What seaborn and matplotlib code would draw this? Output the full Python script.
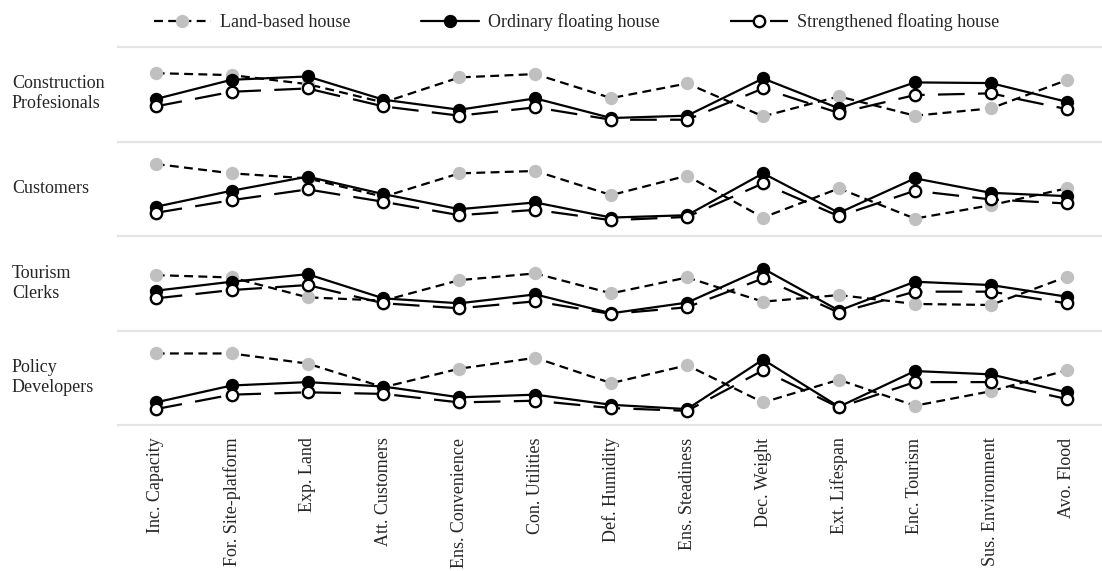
import matplotlib
matplotlib.use("Agg")
import matplotlib.pyplot as plt
import seaborn as sns
import pandas as pd
import numpy as np

criteria = ["Inc. Capacity", "For. Site-platform", "Exp. Land", "Att. Customers",
            "Ens. Convenience", "Con. Utilities", "Def. Humidity", "Ens. Steadiness",
            "Dec. Weight", "Ext. Lifespan", "Enc. Tourism", "Sus. Environment", "Avo. Flood"]
groups = ["Construction\nProfesionals", "Customers", "Tourism\nClerks", "Policy\nDevelopers"]
series = ["Land-based house", "Ordinary floating house", "Strengthened floating house"]

land_construction = [7.18, 6.97, 6.02, 4.08, 6.73, 7.08, 4.54, 6.09, 2.61, 4.72, 2.68, 3.45, 6.44]
ord_construction = [4.44, 6.48, 6.83, 4.37, 3.31, 4.51, 2.43, 2.68, 6.62, 3.45, 6.20, 6.13, 4.15]
str_construction = [3.66, 5.21, 5.56, 3.66, 2.68, 3.56, 2.25, 2.25, 5.56, 2.96, 4.86, 5.04, 3.38]

land_customers = [7.62, 6.63, 6.10, 4.15, 6.63, 6.88, 4.33, 6.38, 1.95, 5.04, 1.84, 3.26, 5.04]
ord_customers = [3.09, 4.79, 6.28, 4.43, 2.84, 3.55, 1.95, 2.20, 6.63, 2.45, 6.10, 4.57, 4.22]
str_customers = [2.45, 3.79, 4.93, 3.62, 2.20, 2.77, 1.67, 2.02, 5.57, 2.09, 4.79, 3.87, 3.44]

land_tourism = [5.86, 5.61, 3.51, 3.16, 5.33, 6.04, 3.93, 5.61, 3.05, 3.75, 2.81, 2.70, 5.68]
ord_tourism = [4.21, 5.16, 5.96, 3.40, 2.88, 3.82, 1.82, 2.95, 6.56, 2.11, 5.16, 4.81, 3.58]
str_tourism = [3.40, 4.28, 4.81, 2.88, 2.35, 3.09, 1.75, 2.46, 5.51, 1.89, 4.11, 4.11, 2.88]

land_policy = [7.57, 7.57, 6.50, 4.00, 5.96, 7.11, 4.43, 6.32, 2.39, 4.79, 2.04, 3.57, 5.79]
ord_policy = [2.39, 4.18, 4.54, 4.07, 2.93, 3.21, 2.14, 1.68, 6.93, 1.93, 5.71, 5.36, 3.46]
str_policy = [1.68, 3.21, 3.46, 3.29, 2.39, 2.57, 1.79, 1.50, 5.79, 1.86, 4.54, 4.54, 2.75]

panel_data = [
    (land_construction, ord_construction, str_construction),
    (land_customers, ord_customers, str_customers),
    (land_tourism, ord_tourism, str_tourism),
    (land_policy, ord_policy, str_policy),
]

sns.set_theme(style="white")
plt.rcParams["font.family"] = ["Liberation Serif", "DejaVu Serif"]

W, H = 1102, 571
fig = plt.figure(figsize=(W / 100, H / 100), dpi=100)

left = 118 / W
right = 1.0
top_px = [46.5, 141.5, 236, 330.5]
panel_h = 94.5

styles = [
    dict(color="black", linestyle=(0, (4, 2.4)), linewidth=1.6, marker="o", markersize=9.6,
         markerfacecolor="#c0c0c0", markeredgecolor="#c0c0c0", markeredgewidth=0),
    dict(color="black", linestyle="-", linewidth=1.6, marker="o", markersize=8.4,
         markerfacecolor="black", markeredgecolor="black", markeredgewidth=1.2),
    dict(color="black", linestyle=(0, (12, 6)), linewidth=1.6, marker="o", markersize=8.2,
         markerfacecolor="white", markeredgecolor="black", markeredgewidth=1.7),
]

xs = np.arange(len(criteria))
axes = []
for i, (vals, tp) in enumerate(zip(panel_data, top_px)):
    bottom = 1 - (tp + panel_h) / H
    ax = fig.add_axes([left, bottom, right - left, panel_h / H])
    axes.append(ax)
    for name, v, st in zip(series, vals, styles):
        df = pd.DataFrame({"x": xs, "y": v})
        sns.lineplot(data=df, x="x", y="y", ax=ax, label=name, **st)
    if ax.get_legend() is not None:
        ax.get_legend().remove()
    ax.set_ylim(0, 10)
    ax.set_xlim(-0.497, 12.465)
    ax.set_yticks([])
    ax.set_ylabel("")
    ax.set_xlabel("")
    for s in ["left", "right", "bottom"]:
        ax.spines[s].set_visible(False)
    ax.spines["top"].set_visible(True)
    ax.spines["top"].set_color("#e4e4e4")
    ax.spines["top"].set_linewidth(1.6)
    if i < 3:
        ax.set_xticks([])
    else:
        ax.spines["bottom"].set_visible(True)
        ax.spines["bottom"].set_color("#e4e4e4")
        ax.spines["bottom"].set_linewidth(1.6)
        ax.set_xticks(xs)
        ax.set_xticklabels(criteria, rotation=90, fontsize=13, va="top", ha="center")
        ax.tick_params(axis="x", length=0, pad=9)
    ax.patch.set_alpha(0)
    fig.text(12 / W, 1 - (tp + panel_h / 2) / H, groups[i], ha="left", va="center",
             fontsize=13, linespacing=1.25)

handles, labels = axes[0].get_legend_handles_labels()
fig.legend(handles, labels, loc="center", bbox_to_anchor=(0.523, 1 - 22 / H), ncol=3,
           frameon=False, fontsize=13, handlelength=3.2, columnspacing=3.9,
           handletextpad=0.5)

fig.savefig("out.png", dpi=100)
